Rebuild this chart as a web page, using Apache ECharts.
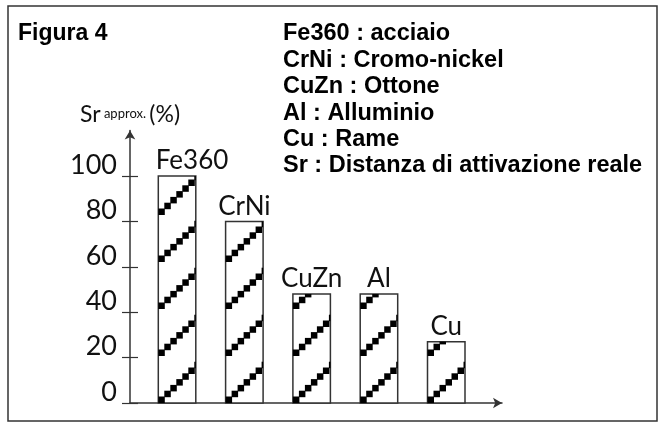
<!DOCTYPE html>
<html>
<head>
<meta charset="utf-8">
<script src="https://cdn.jsdelivr.net/npm/echarts@6/dist/echarts.min.js"></script>
<style>
    html, body { margin: 0; padding: 0; background: #fff; }
    #chart { width: 664px; height: 423px; }
</style>
</head>
<body>
<div id="chart"></div>
<script>
// dati
var categories = ['Fe360', 'CrNi', 'CuZn', 'Al', 'Cu'];
var srValues = [100, 80, 48, 48, 27];
var yTicks = [0, 20, 40, 60, 80, 100];
var figTitle = 'Figura 4';
var legendLines = [
    'Fe360 : acciaio',
    'CrNi : Cromo-nickel',
    'CuZn : Ottone',
    'Al : Alluminio',
    'Cu : Rame',
    'Sr : Distanza di attivazione reale'
];

var thinFont = 'Lato, "DejaVu Sans", sans-serif';
var boldFont = '"Liberation Sans", Arial, sans-serif';

// stile del tratteggio a quadratini
var BAR_W = 37.5, DOT = 6.5, STEP_X = 6, STEP_Y = 5.8, PERIOD = 47;

function renderBar(params, api) {
    var base = api.coord([api.value(0), 0]);
    var top = api.coord([api.value(0), api.value(1)]);
    var x0 = base[0] - BAR_W / 2, x1 = x0 + BAR_W, yb = base[1], yt = top[1];
    var children = [{
        type: 'rect',
        shape: { x: x0, y: yt, width: BAR_W, height: yb - yt },
        style: { fill: '#fff', stroke: '#333', lineWidth: 1.5 }
    }];
    for (var start = yb; start > yt; start -= PERIOD) {
        for (var i = 0; ; i++) {
            var l = x0 + i * STEP_X;
            var b = start - i * STEP_Y;
            if (l >= x1 || b <= yt) break;
            var r = Math.min(l + DOT, x1);
            var t = Math.max(b - DOT, yt);
            children.push({
                type: 'rect',
                shape: { x: l, y: t, width: r - l, height: b - t },
                style: { fill: '#000' }
            });
        }
    }
    // etichetta sopra la barra (Fe360 spostata a destra come nell'originale)
    var dx = params.dataIndex === 0 ? 15 : 0;
    children.push({
        type: 'text',
        x: base[0] + dx,
        y: yt - 2,
        style: {
            text: categories[params.dataIndex],
            font: '26px ' + thinFont,
            fill: '#111',
            align: 'center',
            verticalAlign: 'bottom'
        }
    });
    return { type: 'group', children: children };
}

var myChart = echarts.init(document.getElementById('chart'));

var graphics = [{
    type: 'rect',
    shape: { x: 8, y: 6, width: 649, height: 415 },
    style: { fill: 'none', stroke: '#333', lineWidth: 1.5 }
}, {
    type: 'text',
    x: 18, y: 34,
    style: { text: figTitle, font: 'bold 23px ' + boldFont, fill: '#000', verticalAlign: 'middle' }
}];
legendLines.forEach(function (line, i) {
    graphics.push({
        type: 'text',
        x: 283, y: 34 + i * 26.4,
        style: { text: line, font: 'bold 23.5px ' + boldFont, fill: '#000', verticalAlign: 'middle' }
    });
});

myChart.setOption({
    animation: false,
    graphic: graphics,
    dataset: {
        source: categories.map(function (c, i) { return [c, srValues[i]]; })
    },
    grid: [
        { left: 130, right: 162, top: 130.6, bottom: 20 },   // assi con frecce
        { left: 143.4, right: 184.1, top: 130.6, bottom: 20 } // barre
    ],
    xAxis: [{
        type: 'value',
        gridIndex: 0,
        min: 0,
        max: 1,
        axisLine: {
            show: true,
            symbol: ['none', 'arrow'],
            symbolSize: [8, 9],
            lineStyle: { color: '#333', width: 1.5 }
        },
        axisTick: { show: false },
        axisLabel: { show: false },
        splitLine: { show: false }
    }, {
        type: 'category',
        gridIndex: 1,
        show: false
    }],
    yAxis: [{
        type: 'value',
        gridIndex: 0,
        min: 0,
        max: 120,
        interval: 20,
        axisLine: {
            show: true,
            symbol: ['none', 'arrow'],
            symbolSize: [8, 9],
            lineStyle: { color: '#333', width: 1.5 }
        },
        axisTick: {
            show: true,
            length: 8,
            customValues: yTicks,
            lineStyle: { color: '#333', width: 1.2 }
        },
        axisLabel: {
            customValues: yTicks,
            margin: 13,
            fontFamily: thinFont,
            fontSize: 27,
            color: '#111',
            verticalAlign: 'bottom',
            lineHeight: 22
        },
        splitLine: { show: false },
        name: '{a|Sr} {b|approx.} {a|(%)}',
        nameLocation: 'end',
        nameGap: 5,
        nameTextStyle: {
            rich: {
                a: { fontFamily: thinFont, fontSize: 23, color: '#111' },
                b: { fontFamily: thinFont, fontSize: 13, color: '#111' }
            }
        }
    }, {
        type: 'value',
        gridIndex: 0,
        position: 'left',
        offset: 0,
        min: 0,
        max: 120,
        interval: 20,
        axisLine: { show: false },
        axisTick: {
            show: true,
            inside: true,
            length: 8,
            customValues: yTicks,
            lineStyle: { color: '#333', width: 1.2 }
        },
        axisLabel: { show: false },
        splitLine: { show: false }
    }, {
        type: 'value',
        gridIndex: 1,
        min: 0,
        max: 120,
        show: false
    }],
    series: [{
        type: 'custom',
        xAxisIndex: 1,
        yAxisIndex: 2,
        encode: { x: 0, y: 1 },
        renderItem: renderBar
    }]
});

window.addEventListener('resize', function () {
    myChart.resize();
});
</script>
</body>
</html>
